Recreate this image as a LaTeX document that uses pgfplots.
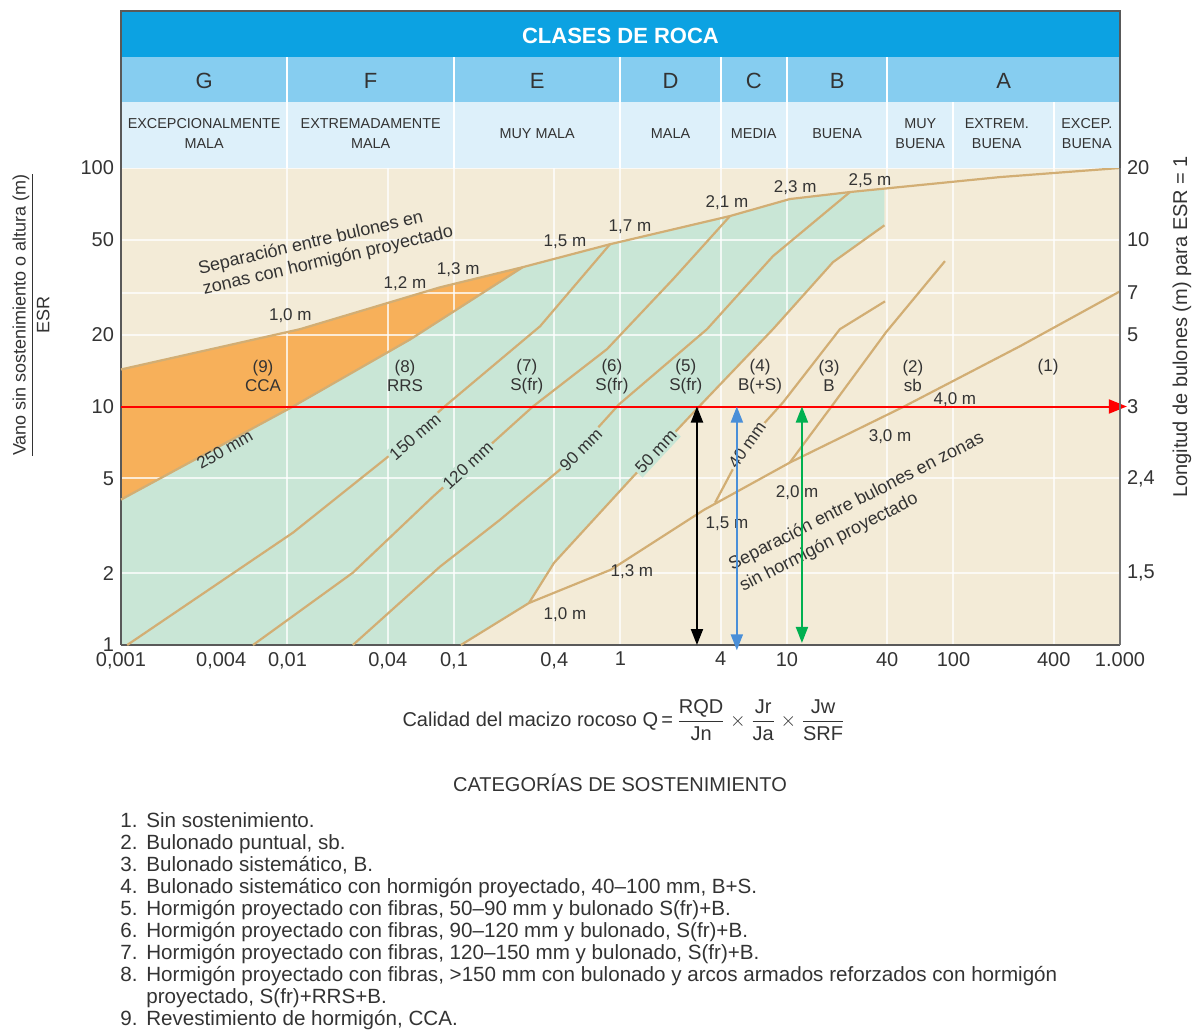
\documentclass[border=0pt]{standalone}
\usepackage{pgfplots}
\pgfplotsset{compat=1.18}
\usetikzlibrary{arrows.meta}
\usepackage{fontspec}
\setmainfont{Liberation Sans}

\definecolor{beige}{HTML}{F3EBD7}
\definecolor{verde}{HTML}{C9E6D6}
\definecolor{naranja}{HTML}{F7B05A}
\definecolor{curva}{HTML}{D2AE74}
\definecolor{azul1}{HTML}{0CA2E2}
\definecolor{azul2}{HTML}{86CDF0}
\definecolor{azul3}{HTML}{DDF0FA}
\definecolor{texto}{HTML}{333333}
\definecolor{flecha}{HTML}{4A8FD8}
\definecolor{verdef}{HTML}{00B050}

\begin{document}
\begin{tikzpicture}[
    lbl/.style={font=\fontsize{8.5}{9.5}\selectfont, text=texto},
    cur/.style={curva, line width=1.1pt},
    hdr/.style={font=\fontsize{7.2}{10}\selectfont, text=texto, align=center},
]
\begin{axis}[
    scale only axis,
    width=499.5pt, height=238.5pt,
    xmode=log, ymode=log,
    xmin=0.001, xmax=1000, ymin=1, ymax=100,
    xtick={0.001,0.01,0.04,0.1,0.4,1,4,10,40,100,400,1000},
    xticklabels={{0,001},{0,01},{0,04},{0,1},{0,4},1,4,10,40,100,400,1.000},
    extra x ticks={0.004}, extra x tick labels={0{,}004},
    extra x tick style={grid=none},
    ytick={1,2,5,10,20,30,50,100},
    yticklabels={1,2,5,10,20,,50,100},
    grid=major,
    grid style={white, line width=1pt, opacity=0.75},
    major tick length=0pt,
    axis x line*=bottom, axis y line*=left,
    axis line style={-, draw=black!65, line width=1pt},
    tick label style={font=\fontsize{10}{12}\selectfont, text=texto},
    /pgf/number format/assume math mode=true,
    clip=false,
    set layers,
]

% fondos
\addplot[fill=beige, draw=none, on layer=axis background]
    coordinates {(0.001,1) (1000,1) (1000,100) (0.001,100)} -- cycle;
\addplot[fill=verde, draw=none, on layer=axis background]
    coordinates {(0.001,1) (0.001,4.07) (0.0108,10) (0.0545,19.1) (0.259,38.4)
        (0.865,47.9) (4.55,62.9) (10.4,74.1) (23.9,79.3) (38.5,82.2)
        (38.5,57.5) (18.9,40.3) (8.24,21.1) (3.13,10.4) (1.19,5.08)
        (0.399,2.21) (0.282,1.50) (0.110,1)} -- cycle;
\addplot[fill=naranja, draw=none, on layer=axis background]
    coordinates {(0.001,4.07) (0.001,14.3) (0.0119,21.1) (0.0824,31.6)
        (0.259,38.4) (0.0545,19.1) (0.0108,10)} -- cycle;

% separacion con hormigon proyectado
\addplot[cur] coordinates {(0.001,14.3) (0.0119,21.1) (0.0824,31.6) (0.259,38.4)
    (0.865,47.9) (4.55,62.9) (10.4,74.1) (23.9,79.3) (47.7,83.2) (190,91.6) (1000,100)};
% espesores
\addplot[cur] coordinates {(0.001,4.07) (0.0108,10) (0.0545,19.1) (0.259,38.4)};
\addplot[cur] coordinates {(0.00109,1) (0.0108,2.96) (0.0396,6.11) (0.0908,10.2) (0.329,21.7) (0.865,47.9)};
\addplot[cur] coordinates {(0.00621,1) (0.0247,2.01) (0.0748,4.19) (0.298,10.0) (0.830,17.4) (2.07,34.2) (4.55,62.9)};
\addplot[cur] coordinates {(0.0247,1) (0.0824,2.13) (0.189,3.35) (0.434,5.44) (0.979,10.2) (3.31,21.1) (8.24,42.7) (23.9,79.3)};
\addplot[cur] coordinates {(0.282,1.50) (0.399,2.21) (1.19,5.08) (3.13,10.4) (8.24,21.1) (18.9,40.3) (38.5,57.5)};
\addplot[cur] coordinates {(3.70,3.95) (5.75,7.06) (9.46,10.4) (20.8,21.1) (38.8,27.6)};
\addplot[cur] coordinates {(10.4,5.82) (18.9,10.2) (39.4,20.5) (88.9,40.7)};
% separacion sin hormigon proyectado
\addplot[cur] coordinates {(0.110,1) (0.282,1.50) (0.877,2.07) (3.18,3.69) (10.4,5.82)
    (50.5,10.0) (251,17.9) (1000,30.4)};

% cabecera
\fill[azul1] (axis cs:0.001,292.6) rectangle (axis cs:1000,457);
\fill[azul2] (axis cs:0.001,189.4) rectangle (axis cs:1000,292.6);
\fill[azul3] (axis cs:0.001,100) rectangle (axis cs:1000,189.4);
\pgfplotsinvokeforeach{0.01,0.1,1,4,10,40}{
    \draw[white, line width=1pt] (axis cs:#1,100) -- (axis cs:#1,292.6);}
\pgfplotsinvokeforeach{100,400}{
    \draw[white, line width=1pt] (axis cs:#1,100) -- (axis cs:#1,189.4);}
\draw[black!65, line width=1pt] (axis cs:0.001,100) -- (axis cs:0.001,457)
    -- (axis cs:1000,457) -- (axis cs:1000,100);
\node[white, font=\bfseries\fontsize{11}{13}\selectfont] at (axis cs:1,359) {CLASES DE ROCA};
\node[font=\fontsize{11}{13}\selectfont, text=texto] at (axis cs:0.00316,232) {G};
\node[font=\fontsize{11}{13}\selectfont, text=texto] at (axis cs:0.0316,232) {F};
\node[font=\fontsize{11}{13}\selectfont, text=texto] at (axis cs:0.316,232) {E};
\node[font=\fontsize{11}{13}\selectfont, text=texto] at (axis cs:2,232) {D};
\node[font=\fontsize{11}{13}\selectfont, text=texto] at (axis cs:6.32,232) {C};
\node[font=\fontsize{11}{13}\selectfont, text=texto] at (axis cs:20,232) {B};
\node[font=\fontsize{11}{13}\selectfont, text=texto] at (axis cs:200,232) {A};
\node[hdr] at (axis cs:0.00316,139) {EXCEPCIONALMENTE\\MALA};
\node[hdr] at (axis cs:0.0316,139) {EXTREMADAMENTE\\MALA};
\node[hdr] at (axis cs:0.316,139) {MUY MALA};
\node[hdr] at (axis cs:2,139) {MALA};
\node[hdr] at (axis cs:6.32,139) {MEDIA};
\node[hdr] at (axis cs:20,139) {BUENA};
\node[hdr] at (axis cs:63.2,139) {MUY\\BUENA};
\node[hdr] at (axis cs:182,139) {EXTREM.\\BUENA};
\node[hdr] at (axis cs:632,139) {EXCEP.\\BUENA};

% textos en el grafico
\node[font=\fontsize{9}{10.4}\selectfont, text=texto, align=left, rotate=13]
    at (axis cs:0.0170,45) {Separación entre bulones en\\zonas con hormigón proyectado};
\node[font=\fontsize{9}{12}\selectfont, text=texto, align=left, rotate=27]
    at (axis cs:28.2,3.59) {Separación entre bulones en zonas\\sin hormigón proyectado};
\node[lbl] at (axis cs:0.0104,24.1) {1,0 m};
\node[lbl] at (axis cs:0.0508,32.6) {1,2 m};
\node[lbl] at (axis cs:0.106,37.6) {1,3 m};
\node[lbl] at (axis cs:0.464,48.9) {1,5 m};
\node[lbl] at (axis cs:1.14,56.5) {1,7 m};
\node[lbl] at (axis cs:4.36,71.9) {2,1 m};
\node[lbl] at (axis cs:11.2,82.4) {2,3 m};
\node[lbl] at (axis cs:31.5,88.2) {2,5 m};
\node[lbl] at (axis cs:0.464,1.34) {1,0 m};
\node[lbl] at (axis cs:1.17,2.03) {1,3 m};
\node[lbl] at (axis cs:4.36,3.22) {1,5 m};
\node[lbl] at (axis cs:11.5,4.35) {2,0 m};
\node[lbl] at (axis cs:41.6,7.48) {3,0 m};
\node[lbl] at (axis cs:102,10.7) {4,0 m};
\node[lbl, rotate=30] at (axis cs:0.0042,6.6) {250 mm};
\node[lbl, rotate=41, fill=verde, inner sep=1pt] at (axis cs:0.0583,7.48) {150 mm};
\node[lbl, rotate=43, fill=verde, inner sep=1pt] at (axis cs:0.121,5.65) {120 mm};
\node[lbl, rotate=45, fill=verde, inner sep=1pt] at (axis cs:0.579,6.6) {90 mm};
\node[lbl, rotate=47, fill=verde, inner sep=1pt] at (axis cs:1.63,6.47) {50 mm};
\node[lbl, rotate=55, fill=beige, inner sep=1pt] at (axis cs:5.75,6.9) {40 mm};
\node[lbl, align=center] at (axis cs:0.00713,13.4) {(9)\\CCA};
\node[lbl, align=center] at (axis cs:0.0508,13.4) {(8)\\RRS};
\node[lbl, align=center] at (axis cs:0.274,13.4) {(7)\\S(fr)};
\node[lbl, align=center] at (axis cs:0.889,13.4) {(6)\\S(fr)};
\node[lbl, align=center] at (axis cs:2.47,13.4) {(5)\\S(fr)};
\node[lbl, align=center] at (axis cs:6.89,13.4) {(4)\\B(+S)};
\node[lbl, align=center] at (axis cs:17.9,13.4) {(3)\\B};
\node[lbl, align=center] at (axis cs:57.1,13.4) {(2)\\sb};
\node[lbl] at (axis cs:370,14.6) {(1)};

% flechas
\addplot[red, line width=1pt, -{Triangle[width=7pt,length=9pt]}]
    coordinates {(0.001,10) (1100,10)};
\addplot[black, line width=1pt, {Triangle[width=6pt,length=8pt]}-{Triangle[width=6pt,length=8pt]}]
    coordinates {(2.88,10) (2.88,1)};
\addplot[flecha, line width=1pt, {Triangle[width=6pt,length=8pt]}-{Triangle[width=6pt,length=8pt]}]
    coordinates {(5.0,10) (5.0,0.95)};
\addplot[verdef, line width=1pt, {Triangle[width=6pt,length=8pt]}-{Triangle[width=6pt,length=8pt]}]
    coordinates {(12.3,10) (12.3,1.02)};

% rotulos
\node[rotate=90, font=\fontsize{9}{11}\selectfont, text=texto] at (axis description cs:-0.090,0.692)
    {$\displaystyle\frac{\mbox{Vano sin sostenimiento o altura (m)}}{\mbox{ESR}}$};
\node[rotate=90, font=\fontsize{10}{12}\selectfont, text=texto] at (axis description cs:1.062,0.667)
    {Longitud de bulones (m) para ESR = 1};
\node[font=\fontsize{10}{12}\selectfont, text=texto] at (axis description cs:0.5035,-0.157)
    {Calidad del macizo rocoso Q\,=\,$\displaystyle\frac{\mbox{RQD}}{\mbox{Jn}}\times\frac{\mbox{Jr}}{\mbox{Ja}}\times\frac{\mbox{Jw}}{\mbox{SRF}}$};
\node[font=\fontsize{10}{12}\selectfont, text=texto] at (axis description cs:0.4995,-0.289)
    {CATEGORÍAS DE SOSTENIMIENTO};
\node[anchor=north west, align=left, inner sep=0pt, font=\fontsize{10.3}{11}\selectfont, text=texto]
    at (axis description cs:-0.001,-0.350) {%
    \makebox[13pt][l]{1.}Sin sostenimiento.\\
    \makebox[13pt][l]{2.}Bulonado puntual, sb.\\
    \makebox[13pt][l]{3.}Bulonado sistemático, B.\\
    \makebox[13pt][l]{4.}Bulonado sistemático con hormigón proyectado, 40--100 mm, B+S.\\
    \makebox[13pt][l]{5.}Hormigón proyectado con fibras, 50--90 mm y bulonado S(fr)+B.\\
    \makebox[13pt][l]{6.}Hormigón proyectado con fibras, 90--120 mm y bulonado, S(fr)+B.\\
    \makebox[13pt][l]{7.}Hormigón proyectado con fibras, 120--150 mm y bulonado, S(fr)+B.\\
    \makebox[13pt][l]{8.}Hormigón proyectado con fibras, >150 mm con bulonado y arcos armados reforzados con hormigón\\
    \makebox[13pt][l]{}proyectado, S(fr)+RRS+B.\\
    \makebox[13pt][l]{9.}Revestimiento de hormigón, CCA.};
\path (axis description cs:-0.1211,-0.8155) rectangle (axis description cs:1.0781,1.3522);
\end{axis}

% eje derecho
\begin{axis}[
    scale only axis,
    width=499.5pt, height=238.5pt,
    xmode=log, ymode=log,
    xmin=0.001, xmax=1000, ymin=1, ymax=100,
    axis x line=none, axis y line*=right,
    axis line style={-, draw=black!55, line width=1pt},
    ytick={2,5,10,20,30,50,100},
    yticklabels={{1,5},{2,4},3,5,7,10,20},
    major tick length=0pt,
    tick label style={font=\fontsize{10}{12}\selectfont, text=texto},
]
\end{axis}
\end{tikzpicture}
\end{document}
